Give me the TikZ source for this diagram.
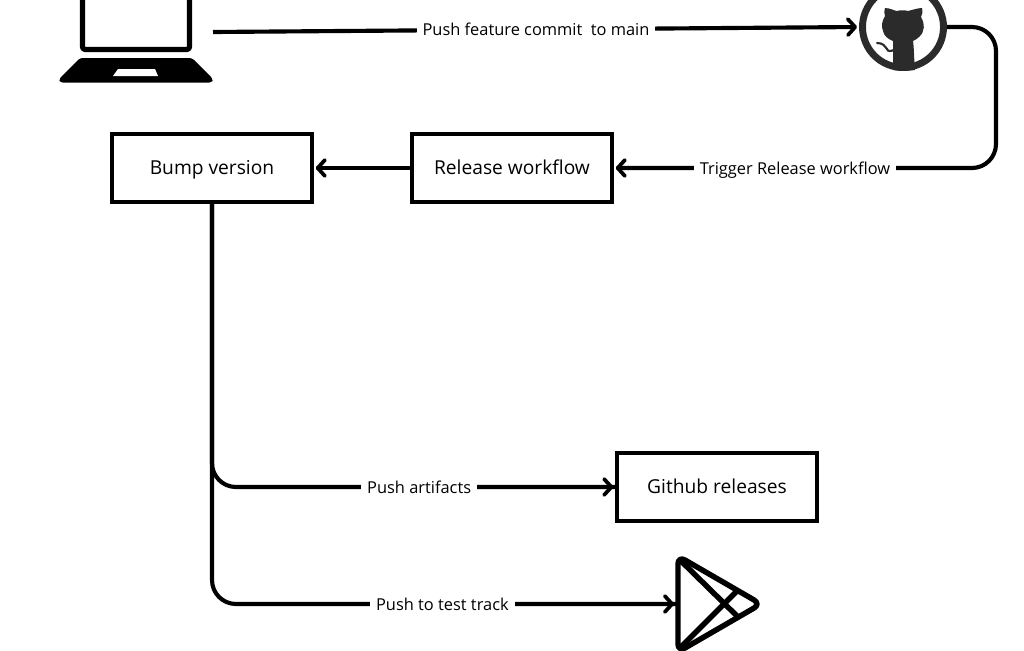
\documentclass[tikz,border=0pt]{standalone}
\usepackage{fontspec}
\setmainfont{Open Sans}
\usetikzlibrary{arrows.meta}
\definecolor{octo}{HTML}{2B2B2B}
\tikzset{
  flowbox/.style={draw=black,line width=2.6pt,minimum width=150pt,minimum height=51pt,inner sep=0pt,outer sep=1.3pt,text height=12.5pt,text depth=3pt,font=\fontsize{14.4}{17}\selectfont},
  wire/.style={draw=black,line width=3.1pt,shorten >=1.5pt,-{Straight Barb[length=5.5pt,width=12pt,round,line width=2.8pt]}},
  plainwire/.style={draw=black,line width=3.1pt},
  wirelabel/.style={fill=white,inner xsep=4.5pt,inner ysep=3pt,text height=11pt,text depth=1.3pt,font=\fontsize{12.3}{14}\selectfont},
  icon/.style={draw=black,line width=4.1pt,line join=round}
}
\begin{document}
\begin{tikzpicture}[x=0.75pt,y=-0.75pt]
\useasboundingbox (0,0) rectangle (1024,650);
\clip (0,0) rectangle (1024,650);

% boxes
\node[flowbox] (bump) at (212,168) {Bump version};
\node[flowbox] (release) at (512,168) {Release workflow};
\node[flowbox] (ghrel) at (717,487) {Github releases};

% laptop
\draw[black,line width=3.9pt,line join=round,rounded corners=2pt] (82.5,-10) -- (82.5,49.5) -- (189.5,49.5) -- (189.5,-10);
\fill[black,rounded corners=2pt]
  (80,58) -- (192,58) -- (213,79) -- (212,82.5) -- (60,82.5) -- (59,79) -- cycle;
\fill[white] (118,69) -- (155,69) -- (158,76) -- (113,76) -- cycle;
\coordinate (laptop) at (213,32);

% GitHub mark
\node[circle,draw=octo,line width=5.2pt,minimum size=60.75pt,inner sep=0pt,outer sep=2.6pt] (gh) at (903,27) {};
\fill[octo] (885,8) .. controls (890,8) and (895,11) .. (897,11)
  .. controls (900,10) and (905,10) .. (908,11)
  .. controls (912,10) and (918,8) .. (922,8)
  .. controls (923,12) and (922,15) .. (921,17)
  .. controls (925,24) and (925,32) .. (919,37)
  .. controls (917,39) and (915,40) .. (913,41)
  .. controls (914,46) and (914,60) .. (915,70)
  .. controls (907,71) and (899,71) .. (893,70)
  .. controls (893,60) and (893,48) .. (893,41)
  .. controls (888,39) and (884,36) .. (883,31)
  .. controls (881,26) and (882,21) .. (885,16)
  .. controls (884,13) and (884,11) .. (885,8) -- cycle;
\draw[octo,line width=1.6pt,line cap=round] (877,43) .. controls (883,43) and (885,46) .. (887,49) .. controls (888,52) and (891,51) .. (894,50);

% Play Store mark
\coordinate (playin) at (676,604);
\draw[icon,rounded corners=6pt] (678,556) -- (761,604) -- (678,652) -- cycle;
\draw[icon] (680,560) -- (737,616);
\draw[icon] (680,648) -- (737,591);

% connectors
\coordinate (trigpos) at (795,168);
\draw[wire] (laptop) -- node[wirelabel,pos=0.5] (pushlabel) {Push feature commit\ \ to main} (gh.west);
\draw[wire,rounded corners=18pt] (gh.east) -- (996,27) -- (996,168) -- (release.east);
\node[wirelabel] (triglabel) at (trigpos) {Trigger Release workflow};
\draw[wire] (release.west) -- (bump.east);
\draw[plainwire,rounded corners=18pt] (bump.south) -- (212,487) -- (ghrel.west);
\draw[wire] (236,487) -- node[wirelabel,pos=0.483] (artlabel) {Push artifacts} (ghrel.west);
\draw[plainwire,rounded corners=18pt] (bump.south) -- (212,604) -- (playin);
\draw[wire] (236,604) -- node[wirelabel,pos=0.469] (tracklabel) {Push to test track} (playin);
\end{tikzpicture}
\end{document}
